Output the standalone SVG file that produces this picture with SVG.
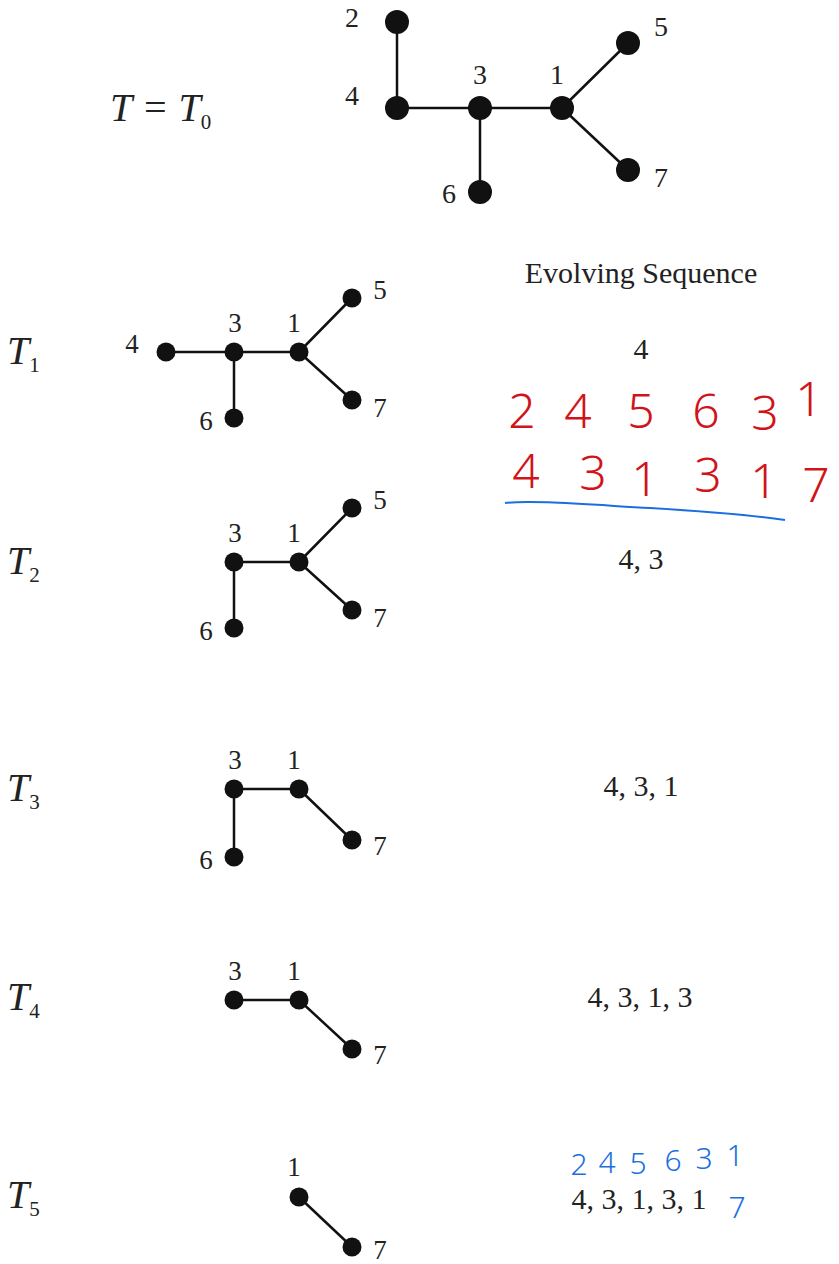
<svg xmlns="http://www.w3.org/2000/svg" width="839" height="1264" viewBox="0 0 839 1264">
<style>
.e{stroke:#111;stroke-width:2.5;fill:none}
.n{fill:#111}
.lb{font-family:"Liberation Serif",serif;font-size:27px;fill:#222;text-anchor:middle}
.lt{font-family:"Liberation Serif",serif;font-size:28px;fill:#222;text-anchor:middle}
.tl{font-family:"Liberation Serif",serif;font-size:40px;font-style:italic;fill:#222}
.sub{font-family:"Liberation Serif",serif;font-size:21px;fill:#222}
.seq{font-family:"Liberation Serif",serif;font-size:30px;fill:#222;text-anchor:middle}
.red{font-family:"Noto Sans",sans-serif;font-size:48px;font-weight:300;fill:#d0141a;text-anchor:middle}
.blue{font-family:"Noto Sans",sans-serif;font-size:30px;font-weight:300;fill:#1a6fe0;text-anchor:middle}
</style>
<rect width="839" height="1264" fill="#fff"/>

<!-- T0 -->
<g id="t0">
<text class="tl" x="110" y="121">T = T<tspan class="sub" dy="8" font-style="normal">0</tspan></text>
<g class="e"><path d="M397,22 V108 H562 M480,108 V192 M562,108 L628,43 M562,108 L628,170"/></g>
<g class="n"><circle cx="397" cy="22" r="12"/><circle cx="397" cy="108" r="12"/><circle cx="480" cy="108" r="12"/><circle cx="562" cy="108" r="12"/><circle cx="628" cy="43" r="12"/><circle cx="628" cy="170" r="12"/><circle cx="480" cy="192" r="12"/></g>
<text class="lt" x="352" y="27">2</text><text class="lt" x="352" y="105">4</text><text class="lt" x="480" y="84">3</text><text class="lt" x="557" y="84">1</text><text class="lt" x="661" y="36">5</text><text class="lt" x="661" y="187">7</text><text class="lt" x="449" y="203">6</text>
</g>

<text class="seq" x="641" y="283">Evolving Sequence</text>

<!-- T1 -->
<g id="t1">
<text class="tl" x="7" y="364">T<tspan class="sub" dy="8" font-style="normal">1</tspan></text>
<g class="e"><path d="M166,352 H299 M234,352 V418 M299,352 L352,298 M299,352 L352,400"/></g>
<g class="n"><circle cx="166" cy="352" r="9.5"/><circle cx="234" cy="352" r="9.5"/><circle cx="299" cy="352" r="9.5"/><circle cx="352" cy="298" r="9.5"/><circle cx="352" cy="400" r="9.5"/><circle cx="234" cy="418" r="9.5"/></g>
<text class="lb" x="132" y="353">4</text><text class="lb" x="235" y="332">3</text><text class="lb" x="294" y="332">1</text><text class="lb" x="380" y="299">5</text><text class="lb" x="380" y="417">7</text><text class="lb" x="206" y="430">6</text>
<text class="seq" x="641" y="359">4</text>
</g>

<!-- handwriting -->
<g id="notes">
<text class="red" x="522" y="428">2</text><text class="red" x="578" y="428">4</text><text class="red" x="641" y="428">5</text><text class="red" x="706" y="428">6</text><text class="red" x="765" y="430">3</text><text class="red" x="809" y="416">1</text>
<text class="red" x="526" y="488">4</text><text class="red" x="593" y="490">3</text><text class="red" x="645" y="496">1</text><text class="red" x="708" y="492">3</text><text class="red" x="764" y="498">1</text><text class="red" x="816" y="502">7</text>
<path d="M505,503 C530,500 580,504 650,508 C700,511 750,515 785,520" stroke="#1a6fe0" stroke-width="2" fill="none"/>
</g>

<!-- T2 -->
<g id="t2">
<text class="tl" x="7" y="574">T<tspan class="sub" dy="8" font-style="normal">2</tspan></text>
<g class="e"><path d="M234,562 H299 M234,562 V628 M299,562 L352,508 M299,562 L352,610"/></g>
<g class="n"><circle cx="234" cy="562" r="9.5"/><circle cx="299" cy="562" r="9.5"/><circle cx="352" cy="508" r="9.5"/><circle cx="352" cy="610" r="9.5"/><circle cx="234" cy="628" r="9.5"/></g>
<text class="lb" x="235" y="542">3</text><text class="lb" x="294" y="542">1</text><text class="lb" x="380" y="509">5</text><text class="lb" x="380" y="627">7</text><text class="lb" x="206" y="640">6</text>
<text class="seq" x="641" y="569">4, 3</text>
</g>

<!-- T3 -->
<g id="t3">
<text class="tl" x="7" y="801">T<tspan class="sub" dy="8" font-style="normal">3</tspan></text>
<g class="e"><path d="M234,789 H299 M234,789 V857 M299,789 L352,840"/></g>
<g class="n"><circle cx="234" cy="789" r="9.5"/><circle cx="299" cy="789" r="9.5"/><circle cx="352" cy="840" r="9.5"/><circle cx="234" cy="857" r="9.5"/></g>
<text class="lb" x="235" y="769">3</text><text class="lb" x="294" y="769">1</text><text class="lb" x="380" y="855">7</text><text class="lb" x="206" y="869">6</text>
<text class="seq" x="641" y="796">4, 3, 1</text>
</g>

<!-- T4 -->
<g id="t4">
<text class="tl" x="7" y="1010">T<tspan class="sub" dy="8" font-style="normal">4</tspan></text>
<g class="e"><path d="M234,1000 H299 M299,1000 L352,1049"/></g>
<g class="n"><circle cx="234" cy="1000" r="9.5"/><circle cx="299" cy="1000" r="9.5"/><circle cx="352" cy="1049" r="9.5"/></g>
<text class="lb" x="235" y="980">3</text><text class="lb" x="294" y="980">1</text><text class="lb" x="380" y="1064">7</text>
<text class="seq" x="640" y="1007">4, 3, 1, 3</text>
</g>

<!-- T5 -->
<g id="t5">
<text class="tl" x="7" y="1208">T<tspan class="sub" dy="8" font-style="normal">5</tspan></text>
<g class="e"><path d="M299,1197 L352,1247"/></g>
<g class="n"><circle cx="299" cy="1197" r="9.5"/><circle cx="352" cy="1247" r="9.5"/></g>
<text class="lb" x="294" y="1176">1</text><text class="lb" x="380" y="1259">7</text>
<text class="seq" x="639" y="1209">4, 3, 1, 3, 1</text>
<text class="blue" x="579" y="1175">2</text><text class="blue" x="607" y="1173">4</text><text class="blue" x="638" y="1174">5</text><text class="blue" x="673" y="1171">6</text><text class="blue" x="704" y="1169">3</text><text class="blue" x="735" y="1166">1</text>
<text class="blue" x="737" y="1218">7</text>
</g>
</svg>
